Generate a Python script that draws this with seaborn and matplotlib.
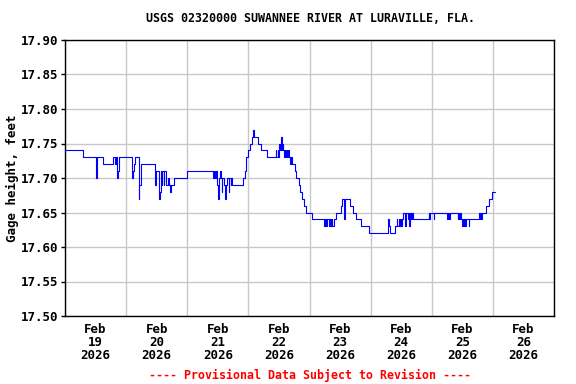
import matplotlib
matplotlib.use("Agg")
import matplotlib.pyplot as plt
import matplotlib.dates as mdates
import matplotlib.ticker as mticker
import pandas as pd
import seaborn as sns

# ---- data (15-minute gage readings, change points) ----
hours = [
    0.0, 7.0, 12.25, 12.5, 12.75, 15.0, 19.0, 19.75, 20.0, 20.5, 20.75, 21.25,
    26.25, 26.5, 26.75, 27.0, 27.5, 29.0, 29.25, 29.75, 35.25, 35.5, 35.75,
    36.75, 37.0, 37.25, 37.5, 38.0, 38.25, 38.75, 39.0, 39.5, 39.75, 40.25,
    40.75, 41.25, 41.75, 42.75, 47.75,
    58.25, 58.5, 59.0, 59.25, 59.75, 60.25, 60.5, 60.75, 61.25, 61.5, 61.75,
    62.25, 62.75, 63.0, 63.25, 63.75, 64.25, 64.5, 65.0, 65.25, 65.5,
    70.0, 70.5, 71.0, 72.0, 72.5, 73.5, 73.75, 74.25, 75.75, 77.0, 79.25,
    82.75, 83.0, 83.5, 83.75, 84.0, 84.25, 84.5, 84.75, 85.0, 85.25, 85.5,
    85.75, 86.0, 86.25, 86.5, 86.75, 87.25, 87.5, 88.0, 88.5, 88.75, 89.0,
    90.25, 90.75, 91.75, 92.25, 93.0, 94.0, 94.75, 97.0,
    101.75, 102.0, 102.5, 102.75, 103.75, 104.0, 104.5, 104.75, 105.0, 105.5,
    106.5, 108.25, 108.75, 109.5, 109.75, 111.75, 113.0, 114.25, 116.25, 119.5,
    127.0, 127.25, 127.5, 129.5, 130.25, 130.5, 131.0, 131.5, 131.75, 132.0,
    132.25, 132.75, 133.5, 133.75, 134.75, 135.0, 135.25, 135.5, 136.0, 136.25,
    136.5, 142.75, 143.0, 143.25, 144.75, 145.0, 150.0, 150.25, 150.75, 151.0,
    154.25, 154.5, 154.75, 155.0, 155.5, 156.0, 156.25, 156.5, 156.75, 157.25,
    157.5, 158.5, 158.75, 162.5, 162.75, 163.0, 163.25, 163.75, 165.25, 166.5,
    167.75, 169.0,
]
gage_height_ft = [
    17.74, 17.73, 17.70, 17.71, 17.73, 17.72, 17.73, 17.72, 17.73, 17.70, 17.71, 17.73,
    17.72, 17.70, 17.71, 17.72, 17.73, 17.67, 17.69, 17.72, 17.71, 17.69, 17.71,
    17.68, 17.67, 17.68, 17.71, 17.69, 17.71, 17.69, 17.71, 17.70, 17.69, 17.70,
    17.69, 17.68, 17.69, 17.70, 17.71,
    17.70, 17.71, 17.70, 17.71, 17.69, 17.67, 17.70, 17.71, 17.70, 17.68, 17.70,
    17.69, 17.68, 17.67, 17.69, 17.70, 17.68, 17.70, 17.69, 17.70, 17.69,
    17.70, 17.71, 17.73, 17.74, 17.75, 17.76, 17.77, 17.76, 17.75, 17.74, 17.73,
    17.74, 17.73, 17.74, 17.73, 17.75, 17.74, 17.75, 17.74, 17.76, 17.74, 17.75,
    17.74, 17.73, 17.74, 17.73, 17.74, 17.73, 17.74, 17.73, 17.72, 17.73, 17.72,
    17.71, 17.70, 17.69, 17.68, 17.67, 17.66, 17.65, 17.64,
    17.63, 17.64, 17.63, 17.64, 17.63, 17.64, 17.63, 17.64, 17.63, 17.64,
    17.65, 17.66, 17.67, 17.64, 17.67, 17.66, 17.65, 17.64, 17.63, 17.62,
    17.64, 17.63, 17.62, 17.63, 17.64, 17.63, 17.64, 17.63, 17.64, 17.63,
    17.64, 17.65, 17.63, 17.65, 17.64, 17.65, 17.63, 17.65, 17.64, 17.65,
    17.64, 17.65, 17.64, 17.65, 17.64, 17.65, 17.64, 17.65, 17.64, 17.65,
    17.64, 17.65, 17.64, 17.65, 17.64, 17.63, 17.64, 17.63, 17.64, 17.63,
    17.64, 17.63, 17.64, 17.65, 17.64, 17.65, 17.64, 17.65, 17.66, 17.67,
    17.68, 17.68,
]
y_ticks = [17.50, 17.55, 17.60, 17.65, 17.70, 17.75, 17.80, 17.85, 17.90]
start_date = "2026-02-19"
n_days = 8

title = "USGS 02320000 SUWANNEE RIVER AT LURAVILLE, FLA."
y_label = "Gage height, feet"
footer = "---- Provisional Data Subject to Revision ----"

# ---- figure ----
sns.set_theme(style="white")
plt.rcParams["font.family"] = ["DejaVu Sans Mono", "DejaVu Sans"]
plt.rcParams["font.weight"] = "bold"

start = pd.Timestamp(start_date)
df = pd.DataFrame({
    "time": start + pd.to_timedelta(hours, unit="h"),
    "gage": gage_height_ft,
})

W, H = 576, 384
fig = plt.figure(figsize=(W / 100, H / 100), dpi=100)
ax = fig.add_axes([65 / W, 1 - 316 / H, (554 - 65) / W, (316 - 40) / H])

sns.lineplot(data=df, x="time", y="gage", ax=ax, color="#0000ff", lw=0.8,
             drawstyle="steps-post", estimator=None, sort=False, zorder=3)

ax.set_xlim(start, start + pd.Timedelta(days=n_days))
ax.set_ylim(y_ticks[0], y_ticks[-1])
ax.set_yticks(y_ticks)
ax.yaxis.set_major_formatter(mticker.FormatStrFormatter("%.2f"))

ax.xaxis.set_major_locator(mdates.HourLocator(byhour=12))
ax.xaxis.set_major_formatter(mdates.DateFormatter("%b\n%d\n%Y"))
ax.xaxis.set_minor_locator(mdates.DayLocator())

ax.grid(False)
ax.grid(True, axis="x", which="minor", color="#c8c8c8", lw=1.0)
ax.grid(True, axis="y", which="major", color="#c8c8c8", lw=1.0)
ax.set_axisbelow(True)

for s in ax.spines.values():
    s.set_color("black")
    s.set_linewidth(1.0)

ax.tick_params(axis="x", which="both", length=0, pad=5, labelsize=9,
               labelcolor="black")
ax.tick_params(axis="y", which="major", length=3, width=1, direction="out",
               color="black", left=True, labelsize=9, labelcolor="black", pad=2)
for lbl in ax.get_xticklabels():
    lbl.set_linespacing(1.0)
    lbl.set_fontweight("bold")
for lbl in ax.get_yticklabels():
    lbl.set_fontweight("bold")

ax.set_xlabel("")
ax.set_ylabel(y_label, fontsize=9, fontweight="bold", color="black", labelpad=1)

fig.text(310 / W, 1 - 18 / H, title, ha="center", va="center",
         fontsize=8.4, fontweight="bold", color="black")
fig.text(310 / W, 1 - 375 / H, footer, ha="center", va="center",
         fontsize=8.4, fontweight="bold", color="red")

fig.savefig("out.png", dpi=100)
